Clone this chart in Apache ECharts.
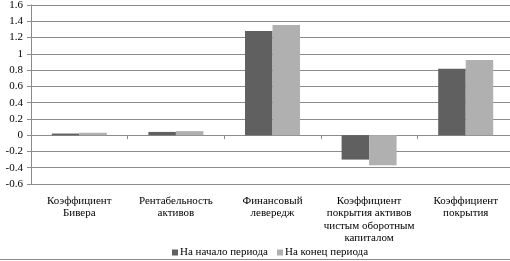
<!DOCTYPE html>
<html><head><meta charset="utf-8">
<script src="https://cdn.jsdelivr.net/npm/echarts@6/dist/echarts.min.js"></script>
<style>html,body{margin:0;padding:0;background:#fff}#c{width:510px;height:261px}</style>
</head><body><div id="c"></div>
<script>
const categories = ["Коэффициент\nБивера", "Рентабельность\nактивов", "Финансовый\nлевередж", "Коэффициент\nпокрытия активов\nчистым оборотным\nкапиталом", "Коэффициент\nпокрытия"];
const seriesNames = ["На начало периода", "На конец периода"];
const startValues = [0.02, 0.04, 1.28, -0.30, 0.815];
const endValues = [0.03, 0.05, 1.355, -0.37, 0.925];
const yMin = -0.6, yMax = 1.6, yStep = 0.2;

const font = 'Liberation Serif';
const grid = '#8c8c8c';
const chart = echarts.init(document.getElementById('c'), null, {renderer: 'canvas'});
chart.setOption({
  animation: false,
  backgroundColor: '#fff',
  textStyle: {fontFamily: font},
  grid: {left: 31, right: -4, top: 5, bottom: 77, containLabel: false, outerBoundsMode: 'none'},
  legend: {
    top: 242, left: 167, itemWidth: 6, itemHeight: 6, itemGap: 9,
    icon: 'rect',
    textStyle: {fontFamily: font, fontSize: 11, color: '#000', padding: [0,0,0,-3]},
    data: seriesNames
  },
  xAxis: {
    type: 'category', data: categories,
    axisLine: {onZero: true, lineStyle: {color: grid, width: 1}},
    axisTick: {show: true, length: 4, inside: false, lineStyle: {color: grid}},
    axisLabel: {interval: 0, margin: 11, fontFamily: font, fontSize: 11, color: '#000', lineHeight: 12.3, hideOverlap: false}
  },
  yAxis: {
    type: 'value', min: yMin, max: yMax, interval: yStep,
    axisLine: {show: true, lineStyle: {color: grid}},
    axisTick: {show: true, length: 4, lineStyle: {color: grid}},
    splitLine: {show: true, lineStyle: {color: grid, width: 1}},
    axisLabel: {margin: 8, fontFamily: font, fontSize: 11, color: '#000',
      formatter: v => String(Math.round(v * 10) / 10)}
  },
  series: [
    {name: seriesNames[0], type: 'bar', data: startValues, barWidth: 27.5, barGap: '0%', itemStyle: {color: '#606060'}},
    {name: seriesNames[1], type: 'bar', data: endValues, barWidth: 27.5, barGap: '0%', itemStyle: {color: '#b0b0b0'}}
  ],
  graphic: [{type: 'line', shape: {x1: 0, y1: 259.5, x2: 510, y2: 259.5}, style: {stroke: grid, lineWidth: 1}}]
});
</script></body></html>
